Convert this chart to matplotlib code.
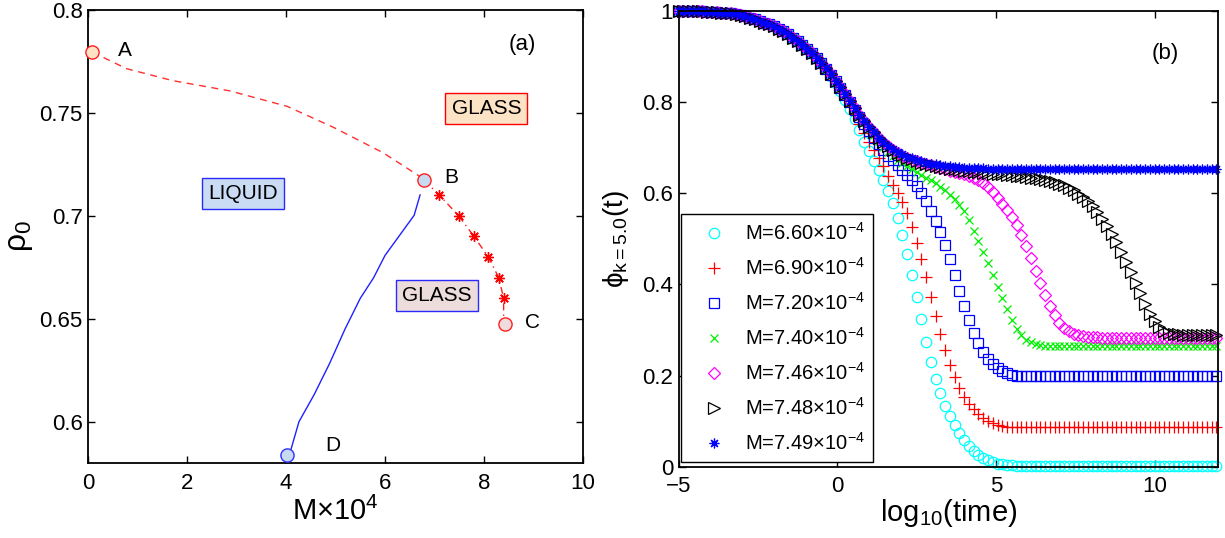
import matplotlib
matplotlib.use("Agg")
import matplotlib.pyplot as plt

plt.rcParams['font.family'] = ['Liberation Sans', 'DejaVu Sans']
plt.rcParams['mathtext.fontset'] = 'custom'
plt.rcParams['mathtext.rm'] = 'Liberation Sans'
plt.rcParams['mathtext.it'] = 'Liberation Sans:italic'
plt.rcParams['mathtext.default'] = 'regular'

# ---------------- panel (a): phase diagram ----------------
ab_M   = [0.08, 0.77, 1.70, 2.86, 4.02, 4.95, 5.96, 6.66, 6.79]
ab_rho = [0.7794, 0.7714, 0.7656, 0.7606, 0.7531, 0.7430, 0.7306, 0.7198, 0.7173]

bc_M   = [6.79, 7.10, 7.49, 7.80, 8.09, 8.30, 8.40, 8.40]
bc_rho = [0.7173, 0.710, 0.700, 0.690, 0.680, 0.670, 0.660, 0.650]
bc_star_M   = [7.10, 7.49, 7.80, 8.09, 8.30, 8.40]
bc_star_rho = [0.710, 0.700, 0.690, 0.680, 0.670, 0.660]

bd_M   = [6.71, 6.59, 6.00, 5.77, 5.50, 5.19, 4.88, 4.57, 4.26, 4.10, 4.01]
bd_rho = [0.7101, 0.7002, 0.6807, 0.6699, 0.6599, 0.6449, 0.6283, 0.6133, 0.6000, 0.5867, 0.5837]

pt_names = ['A', 'B', 'C', 'D']
pt_M     = [0.08, 6.79, 8.42, 4.01]
pt_rho   = [0.7794, 0.7173, 0.6477, 0.5837]
pt_face  = ['#fde3c6', '#c6daf2', '#f0dcdc', '#c6daf2']
pt_edge  = ['#ff2020', '#ff2020', '#ff2020', '#3030ff']
lbl_M    = [0.74, 7.35, 8.98, 4.95]
lbl_rho  = [0.7800, 0.7186, 0.6483, 0.5883]

# ---------------- panel (b): correlators ----------------
log_t = [-5.00, -4.85, -4.70, -4.55, -4.40, -4.25, -4.10, -3.95, -3.80, -3.65,
         -3.50, -3.35, -3.20, -3.05, -2.90, -2.75, -2.60, -2.45, -2.30, -2.15,
         -2.00, -1.85, -1.70, -1.55, -1.40, -1.25, -1.10, -0.95, -0.80, -0.65,
         -0.50, -0.35, -0.20, -0.05, 0.10, 0.25, 0.40, 0.55, 0.70, 0.85,
         1.00, 1.15, 1.30, 1.45, 1.60, 1.75, 1.90, 2.05, 2.20, 2.35,
         2.50, 2.65, 2.80, 2.95, 3.10, 3.25, 3.40, 3.55, 3.70, 3.85,
         4.00, 4.15, 4.30, 4.45, 4.60, 4.75, 4.90, 5.05, 5.20, 5.35,
         5.50, 5.65, 5.80, 5.95, 6.10, 6.25, 6.40, 6.55, 6.70, 6.85,
         7.00, 7.15, 7.30, 7.45, 7.60, 7.75, 7.90, 8.05, 8.20, 8.35,
         8.50, 8.65, 8.80, 8.95, 9.10, 9.25, 9.40, 9.55, 9.70, 9.85,
         10.00, 10.15, 10.30, 10.45, 10.60, 10.75, 10.90, 11.05, 11.20, 11.35,
         11.50, 11.65, 11.80, 11.95]

phi_early = [1.000, 1.000, 1.000, 0.999, 0.999, 0.999, 0.998, 0.998, 0.997, 0.996,
             0.995, 0.994, 0.992, 0.990, 0.988, 0.985, 0.982, 0.978, 0.974, 0.970,
             0.966, 0.960, 0.955, 0.948, 0.941, 0.934, 0.926, 0.917, 0.908, 0.897,
             0.886]

phi_660 = [0.872, 0.858, 0.842, 0.824, 0.805, 0.784, 0.762, 0.738, 0.713, 0.692,
           0.671, 0.650, 0.628, 0.605, 0.578, 0.545, 0.508, 0.466, 0.420, 0.373,
           0.323, 0.273, 0.230, 0.193, 0.162, 0.134, 0.111, 0.091, 0.074, 0.059,
           0.046, 0.035, 0.026, 0.019, 0.014, 0.010, 0.007, 0.005, 0.004, 0.003,
           0.002, 0.002, 0.002, 0.002, 0.002, 0.002, 0.002, 0.002, 0.002, 0.002,
           0.002, 0.002, 0.002, 0.002, 0.002, 0.002, 0.002, 0.002, 0.002, 0.002,
           0.002, 0.002, 0.002, 0.002, 0.002, 0.002, 0.002, 0.002, 0.002, 0.002,
           0.002, 0.002, 0.002, 0.002, 0.002, 0.002, 0.002, 0.002, 0.002, 0.002,
           0.002, 0.002, 0.002]

phi_690 = [0.873, 0.860, 0.845, 0.829, 0.811, 0.792, 0.773, 0.752, 0.731, 0.712,
           0.695, 0.678, 0.659, 0.637, 0.618, 0.600, 0.581, 0.556, 0.525, 0.490,
           0.455, 0.415, 0.373, 0.330, 0.292, 0.256, 0.224, 0.197, 0.173, 0.152,
           0.138, 0.126, 0.116, 0.107, 0.101, 0.096, 0.092, 0.089, 0.088, 0.087,
           0.087, 0.087, 0.087, 0.087, 0.087, 0.087, 0.087, 0.087, 0.087, 0.087,
           0.087, 0.087, 0.087, 0.087, 0.087, 0.087, 0.087, 0.087, 0.087, 0.087,
           0.087, 0.087, 0.087, 0.087, 0.087, 0.087, 0.087, 0.087, 0.087, 0.087,
           0.087, 0.087, 0.087, 0.087, 0.087, 0.087, 0.087, 0.087, 0.087, 0.087,
           0.087, 0.087, 0.087]

phi_720 = [0.873, 0.860, 0.846, 0.831, 0.815, 0.799, 0.783, 0.767, 0.751, 0.736,
           0.721, 0.707, 0.694, 0.682, 0.672, 0.662, 0.651, 0.640, 0.628, 0.615,
           0.600, 0.582, 0.561, 0.539, 0.515, 0.487, 0.456, 0.421, 0.386, 0.352,
           0.321, 0.294, 0.271, 0.252, 0.237, 0.226, 0.217, 0.210, 0.205, 0.202,
           0.200, 0.199, 0.198, 0.198, 0.198, 0.198, 0.198, 0.198, 0.198, 0.198,
           0.198, 0.198, 0.198, 0.198, 0.198, 0.198, 0.198, 0.198, 0.198, 0.198,
           0.198, 0.198, 0.198, 0.198, 0.198, 0.198, 0.198, 0.198, 0.198, 0.198,
           0.198, 0.198, 0.198, 0.198, 0.198, 0.198, 0.198, 0.198, 0.198, 0.198,
           0.198, 0.198, 0.198]

phi_740 = [0.873, 0.860, 0.846, 0.832, 0.816, 0.800, 0.785, 0.770, 0.755, 0.740,
           0.727, 0.714, 0.702, 0.691, 0.681, 0.673, 0.666, 0.659, 0.652, 0.646,
           0.640, 0.634, 0.628, 0.622, 0.614, 0.606, 0.597, 0.587, 0.575, 0.560,
           0.540, 0.518, 0.495, 0.471, 0.446, 0.420, 0.394, 0.369, 0.345, 0.322,
           0.303, 0.288, 0.279, 0.273, 0.269, 0.266, 0.265, 0.264, 0.264, 0.264,
           0.264, 0.264, 0.264, 0.264, 0.264, 0.264, 0.264, 0.264, 0.264, 0.264,
           0.264, 0.264, 0.264, 0.264, 0.264, 0.264, 0.264, 0.264, 0.264, 0.264,
           0.264, 0.264, 0.264, 0.264, 0.264, 0.264, 0.264, 0.264, 0.264, 0.264,
           0.264, 0.264, 0.264]

phi_746 = [0.874, 0.861, 0.847, 0.833, 0.817, 0.801, 0.786, 0.771, 0.758, 0.745,
           0.733, 0.722, 0.712, 0.703, 0.695, 0.688, 0.682, 0.677, 0.673, 0.670,
           0.667, 0.664, 0.661, 0.658, 0.655, 0.652, 0.649, 0.646, 0.644, 0.641,
           0.638, 0.634, 0.629, 0.622, 0.614, 0.603, 0.590, 0.577, 0.563, 0.547,
           0.530, 0.508, 0.484, 0.458, 0.430, 0.402, 0.376, 0.352, 0.332, 0.316,
           0.305, 0.297, 0.291, 0.288, 0.286, 0.285, 0.284, 0.284, 0.283, 0.283,
           0.283, 0.283, 0.283, 0.283, 0.283, 0.283, 0.283, 0.283, 0.283, 0.283,
           0.283, 0.283, 0.283, 0.283, 0.283, 0.283, 0.283, 0.283, 0.283, 0.283,
           0.283, 0.283, 0.283]

phi_748 = [0.874, 0.861, 0.847, 0.833, 0.817, 0.801, 0.786, 0.771, 0.758, 0.745,
           0.733, 0.722, 0.712, 0.703, 0.695, 0.689, 0.683, 0.678, 0.674, 0.670,
           0.667, 0.664, 0.662, 0.660, 0.658, 0.656, 0.654, 0.652, 0.650, 0.649,
           0.648, 0.647, 0.646, 0.645, 0.644, 0.643, 0.642, 0.641, 0.640, 0.639,
           0.638, 0.637, 0.636, 0.634, 0.633, 0.631, 0.629, 0.627, 0.624, 0.621,
           0.617, 0.612, 0.606, 0.599, 0.591, 0.582, 0.571, 0.558, 0.543, 0.527,
           0.510, 0.492, 0.472, 0.450, 0.427, 0.403, 0.380, 0.357, 0.336, 0.319,
           0.306, 0.298, 0.293, 0.291, 0.290, 0.289, 0.289, 0.289, 0.289, 0.289,
           0.289, 0.289, 0.289]

phi_749 = [0.874, 0.861, 0.847, 0.833, 0.817, 0.801, 0.786, 0.771, 0.758, 0.745,
           0.733, 0.722, 0.712, 0.703, 0.696, 0.690, 0.685, 0.680, 0.676, 0.673,
           0.670, 0.667, 0.665, 0.663, 0.661, 0.660, 0.659, 0.658, 0.657, 0.656,
           0.656, 0.655, 0.655, 0.655, 0.654, 0.654, 0.654, 0.654, 0.654, 0.654,
           0.654, 0.654, 0.654, 0.654, 0.654, 0.654, 0.654, 0.654, 0.654, 0.654,
           0.654, 0.654, 0.654, 0.654, 0.654, 0.654, 0.654, 0.654, 0.654, 0.654,
           0.654, 0.654, 0.654, 0.654, 0.654, 0.654, 0.654, 0.654, 0.654, 0.654,
           0.654, 0.654, 0.654, 0.654, 0.654, 0.654, 0.654, 0.654, 0.654, 0.654,
           0.654, 0.654, 0.654]

series_labels = [r'M=6.60$\times$10$^{-4}$', r'M=6.90$\times$10$^{-4}$',
                 r'M=7.20$\times$10$^{-4}$', r'M=7.40$\times$10$^{-4}$',
                 r'M=7.46$\times$10$^{-4}$', r'M=7.48$\times$10$^{-4}$',
                 r'M=7.49$\times$10$^{-4}$']
series_tails = [phi_660, phi_690, phi_720, phi_740, phi_746, phi_748, phi_749]
series_colors = ['#00ffff', '#ff0000', '#0000ff', '#00ee00', '#ff00ff', '#000000', '#0000ff']
series_markers = ['o', '+', 's', 'x', 'D', '>', (8, 2, 0)]
series_ms = [7.5, 8, 6.5, 5.5, 6.5, 8, 7]

fig = plt.figure(figsize=(12.25, 5.38), dpi=100)
ax1 = fig.add_axes([0.0721, 0.1394, 0.4036, 0.8426])
ax2 = fig.add_axes([0.554, 0.1325, 0.4403, 0.8475])

# ---- panel (a)
ax1.plot(ab_M, ab_rho, color='#ff3030', lw=1.0, dashes=(5, 4))
ax1.plot(bc_M, bc_rho, color='#ff2020', lw=1.0, dashes=(5, 3, 1, 3))
ax1.plot(bc_star_M, bc_star_rho, ls='none', marker=(8, 2, 0), ms=7.5,
         mec='#ff0000', mew=1.0)
ax1.plot(bd_M, bd_rho, color='#2020ff', lw=1.0)
for n, m, r, fc, ec, lm, lr in zip(pt_names, pt_M, pt_rho, pt_face, pt_edge, lbl_M, lbl_rho):
    ax1.plot([m], [r], ls='none', marker='o', ms=9.5, mfc=fc, mec=ec, mew=1.0,
             clip_on=False, zorder=5)
    ax1.text(lm, lr, n, fontsize=15, ha='center', va='center')

ax1.text(8.05, 0.7521, 'GLASS', fontsize=15, ha='center', va='center',
         bbox=dict(boxstyle='square,pad=0.3', fc='#fde3c6', ec='#ff0000', lw=1.0))
ax1.text(3.13, 0.7107, 'LIQUID', fontsize=15, ha='center', va='center',
         bbox=dict(boxstyle='square,pad=0.3', fc='#c9dcf4', ec='#2a2aff', lw=1.0))
ax1.text(7.05, 0.6614, 'GLASS', fontsize=15, ha='center', va='center',
         bbox=dict(boxstyle='square,pad=0.3', fc='#ecdcdc', ec='#2a2aff', lw=1.0))
ax1.text(8.78, 0.783, '(a)', fontsize=16, ha='center', va='center')

ax1.set_xlim(0, 10)
ax1.set_ylim(0.58, 0.8)
ax1.set_xticks([0, 2, 4, 6, 8, 10])
ax1.set_xticklabels(['0', '2', '4', '6', '8', '10'])
ax1.set_yticks([0.6, 0.65, 0.7, 0.75, 0.8])
ax1.set_yticklabels(['0.6', '0.65', '0.7', '0.75', '0.8'])
ax1.set_xlabel('M×10$^4$', fontsize=21, labelpad=2)
ax1.set_ylabel('ρ$_0$', fontsize=23, labelpad=3)

# ---- panel (b)
for lab, tail, c, mk, ms in zip(series_labels, series_tails, series_colors,
                                 series_markers, series_ms):
    yv = phi_early + tail
    ax2.plot(log_t, yv, ls='none', marker=mk, ms=ms, mfc='none', mec=c,
             mew=0.9, label=lab, clip_on=False)

ax2.text(10.33, 0.907, '(b)', fontsize=16, ha='center', va='center')
ax2.set_xlim(-5, 12)
ax2.set_ylim(0, 1)
ax2.set_xticks([-5, 0, 5, 10])
ax2.set_yticks([0, 0.2, 0.4, 0.6, 0.8, 1.0])
ax2.set_yticklabels(['0', '0.2', '0.4', '0.6', '0.8', '1'])
ax2.set_xlabel('log$_{10}$(time)', fontsize=21, labelpad=0)
ax2.set_ylabel('ϕ$_{k=5.0}$(t)', fontsize=20, labelpad=8)

leg = ax2.legend(loc='lower left', bbox_to_anchor=(0.004, 0.01), borderaxespad=0,
                 numpoints=1, fontsize=14.5, frameon=True, fancybox=False,
                 edgecolor='black', framealpha=1, handlelength=2.5,
                 handletextpad=0.3, labelspacing=0.65, borderpad=0.4)
leg.get_frame().set_linewidth(1.0)

for ax in (ax1, ax2):
    ax.tick_params(direction='in', top=True, right=True, length=5, width=1,
                   labelsize=16)
    ax.tick_params(axis='x', pad=7)
    ax.tick_params(axis='y', pad=4)
    for s in ax.spines.values():
        s.set_linewidth(1.3)

fig.savefig('out.png', dpi=100)
